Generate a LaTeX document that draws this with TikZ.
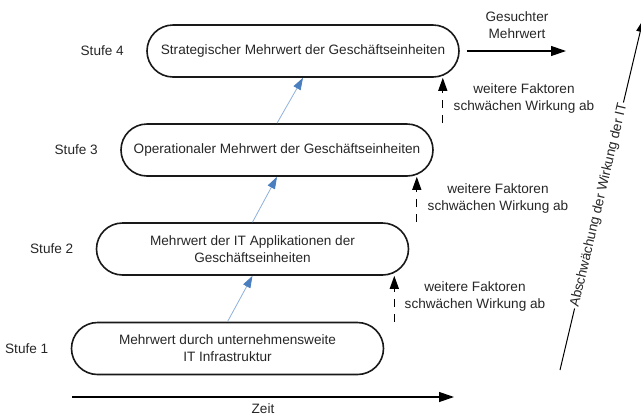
\documentclass[tikz,border=0pt]{standalone}
\usepackage{fontspec}
\setmainfont{Liberation Sans}
\usetikzlibrary{arrows.meta,calc}
\definecolor{textc}{HTML}{262626}
\definecolor{blueline}{HTML}{8DB0DC}
\definecolor{bluehead}{HTML}{4A7EBF}
\tikzset{
  txt/.style={font=\fontsize{13.6}{17}\selectfont, text=textc, align=center, inner sep=1pt},
  stage/.style={txt, draw=black!90, line width=1.6pt, rounded corners=26pt,
    minimum width=312pt, minimum height=52pt, inner sep=0pt},
  bluearrow/.style={draw=blueline, line width=0.8pt,
    -{Triangle[length=12pt,width=8pt,fill=bluehead,color=bluehead]}},
  dasharrow/.style={draw=black, line width=1.3pt, dash pattern=on 8pt off 7pt,
    -{Triangle[length=13pt,width=9pt]}},
  mainarrow/.style={draw=black, line width=1.2pt, -{Triangle[length=15pt,width=10pt]}},
}
\begin{document}
\begin{tikzpicture}[x=1pt,y=-1pt]
\useasboundingbox (0,0) rectangle (641,416);

% stage boxes
\node[stage] (b4) at (303,51) {Strategischer Mehrwert der Geschäftseinheiten};
\node[stage] (b3) at (277,150) {Operationaler Mehrwert der Geschäftseinheiten};
\node[stage] (b2) at (252.5,249) {Mehrwert der IT Applikationen der\\Geschäftseinheiten};
\node[stage] (b1) at (227.5,348.5) {Mehrwert durch unternehmensweite\\IT Infrastruktur};

% stage labels
\node[txt] (s4) at ($(b4.west)+(-44,0)$) {Stufe 4};
\node[txt] (s3) at ($(b3.west)+(-44,0)$) {Stufe 3};
\node[txt] (s2) at ($(b2.west)+(-44,0)$) {Stufe 2};
\node[txt] (s1) at ($(b1.west)+(-44,0)$) {Stufe 1};

% blue arrows
\draw[bluearrow] (b1.north) -- (b2.south);
\draw[bluearrow] (b2.north) -- (b3.south);
\draw[bluearrow] (b3.north) -- (b4.south);

% dashed arrows
\coordinate (a4) at ($(b4.south east)+(-17,0)$);
\coordinate (a3) at ($(b3.south east)+(-17,0)$);
\coordinate (a2) at ($(b2.south east)+(-15,0)$);
\draw[dasharrow] (a4 |- b3.north) -- (a4);
\draw[dasharrow] (a3 |- b2.north) -- (a3);
\draw[dasharrow] (a2 |- b1.north) -- (a2);

% factor texts
\node[txt] (w4) at (524,98.5) {weitere Faktoren\\schwächen Wirkung ab};
\node[txt] (w3) at (498,198.5) {weitere Faktoren\\schwächen Wirkung ab};
\node[txt] (w2) at (475,296.5) {weitere Faktoren\\schwächen Wirkung ab};

% sought value
\coordinate (g1) at ($(b4.east)+(7,0)$);
\coordinate (g2) at (566,51);
\draw[mainarrow] (g1) -- (g2);
\node[txt] (gm) at (517,25) {Gesuchter\\Mehrwert};

% time axis
\coordinate (z1) at (72,397);
\coordinate (z2) at (454,397);
\draw[mainarrow] (z1) -- (z2);
\node[txt] (zeit) at (263,408.5) {Zeit};

% weakening arrow
\coordinate (d1) at (560,370);
\coordinate (d2) at (643,20);
\draw[draw=black, line width=1pt, -{Triangle[length=12pt,width=8pt]}] (d1) -- (d2)
  node[txt, pos=0.47, sloped, fill=white, inner sep=1.5pt] (ab) {Abschwächung der Wirkung der IT};
\end{tikzpicture}
\end{document}
